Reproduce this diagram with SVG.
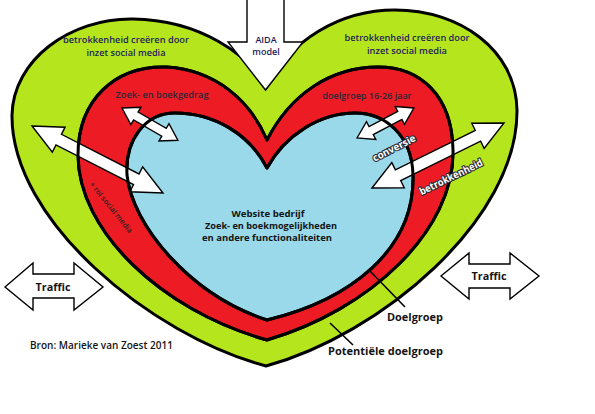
<svg xmlns="http://www.w3.org/2000/svg" xmlns:xlink="http://www.w3.org/1999/xlink" width="595" height="414" viewBox="0 0 595 414">
<style>
.edge{fill:none;stroke:#000;stroke-width:3;stroke-linejoin:round}
.arr{fill:#fff;stroke:#000;stroke-width:1.4;stroke-linejoin:miter}
.t{font-family:"Open Sans","Liberation Sans",sans-serif;text-anchor:middle}
.navy{fill:#1e1c5c;font-size:9.5px;font-weight:600}
.dark{fill:#141414;font-weight:700}
.wt{fill:#fff;stroke:#2a2a3a;stroke-width:2.2;paint-order:stroke;font-size:10px;font-weight:700}
.lead{stroke:#000;stroke-width:1.6}
</style>
<defs>
<path id="pGreen" d="M266 88 C250 55 200 20 133 19 C70 18 13 60 12 115 C11 220 150 335 266 366 C380 335 518 220 517 110 C516 50 460 10 395 10 C340 10 290 40 266 88 Z"/>
<path id="pRed" d="M267 140 C250 100 215 70 167 67 C115 65 78 100 78 155 C78 230 160 310 267 340 C370 310 455 230 453 150 C452 95 420 67 378 67 C330 67 290 95 267 140 Z"/>
<path id="pBlue" d="M267 168 C250 135 215 113 175 113 C145 113 125 140 127 175 C132 225 190 295 267 320 C350 300 415 250 413 175 C412 135 385 113 355 113 C320 113 285 135 267 168 Z"/>
</defs>
<rect width="595" height="414" fill="#fff"/>
<g id="heart-potentiele-doelgroep">
<use xlink:href="#pGreen" fill="#b5e61d"/>
<use xlink:href="#pGreen" class="edge"/>
</g>
<g id="heart-doelgroep">
<use xlink:href="#pRed" fill="#ed1c24"/>
<use xlink:href="#pRed" class="edge"/>
</g>
<g id="heart-website">
<use xlink:href="#pBlue" fill="#99d9ea"/>
<use xlink:href="#pBlue" class="edge"/>
</g>
<g id="connectors">
<polygon class="arr" transform="translate(32 126) rotate(27.08)" points="0,0 30,-14 30,-6 117.1,-6 117.1,-14 147.1,0 117.1,14 117.1,6 30,6 30,14"/>
<polygon class="arr" transform="translate(122 108) rotate(30)" points="0,0 16,-10 16,-4.5 48.5,-4.5 48.5,-10 64.5,0 48.5,10 48.5,4.5 16,4.5 16,10"/>
<polygon class="arr" transform="translate(357 138) rotate(-27.8)" points="0,0 16,-10 16,-4.5 48.4,-4.5 48.4,-10 64.4,0 48.4,10 48.4,4.5 16,4.5 16,10"/>
<polygon class="arr" transform="translate(372 188) rotate(-26.2)" points="0,0 29,-14 29,-6 118.1,-6 118.1,-14 147.1,0 118.1,14 118.1,6 29,6 29,14"/>
<line class="lead" x1="369" y1="270" x2="405" y2="307"/>
<line class="lead" x1="330" y1="323" x2="353" y2="345"/>
</g>
<g id="edges-over">
<use xlink:href="#pRed" class="edge"/>
<use xlink:href="#pBlue" class="edge"/>
</g>
<g id="aida">
<polygon class="arr" points="247,-2 284,-2 284,42 303,42 265.5,90 228,42 247,42"/>
<text class="t navy" x="266" y="43" style="font-size:9px">AIDA</text>
<text class="t navy" x="266" y="54.5" style="font-size:9px">model</text>
</g>
<g id="traffic-left">
<polygon class="arr" points="5,287 33,263 33,274 74,274 74,263 103,287 74,310 74,298 33,298 33,310"/>
<text class="t dark" x="53" y="291" style="font-size:11px" textLength="35" lengthAdjust="spacingAndGlyphs">Traffic</text>
</g>
<g id="traffic-right">
<polygon class="arr" points="441,276 469,253 469,264 510,264 510,253 539,276 510,299 510,288 469,288 469,299"/>
<text class="t dark" x="489" y="280" style="font-size:11px" textLength="35" lengthAdjust="spacingAndGlyphs">Traffic</text>
</g>
<g id="labels">
<text class="t navy" x="126" y="43" textLength="126" lengthAdjust="spacingAndGlyphs">betrokkenheid creëren door</text>
<text class="t navy" x="126" y="55.5" textLength="79" lengthAdjust="spacingAndGlyphs">inzet social media</text>
<text class="t navy" x="407" y="41" textLength="125" lengthAdjust="spacingAndGlyphs">betrokkenheid creëren door</text>
<text class="t navy" x="407" y="53.5" textLength="80" lengthAdjust="spacingAndGlyphs">inzet social media</text>
<text class="t" x="162" y="98" style="font-size:9.5px;fill:#2a2838;font-weight:600" textLength="93" lengthAdjust="spacingAndGlyphs">Zoek- en boekgedrag</text>
<text class="t" x="367" y="99" style="font-size:9px;fill:#2a2838;font-weight:600" textLength="89" lengthAdjust="spacingAndGlyphs">doelgroep 16-26 jaar</text>
<text class="t wt" transform="rotate(-27 394 148)" x="394" y="151.5" textLength="47" lengthAdjust="spacingAndGlyphs">conversie</text>
<text class="t wt" transform="rotate(-26 451 177)" x="451" y="180.5" textLength="69" lengthAdjust="spacingAndGlyphs">betrokkenheid</text>
<text class="t" transform="rotate(51 111 207.5)" x="111" y="210" style="font-size:7.5px;fill:#2a2020;font-weight:600" textLength="63" lengthAdjust="spacingAndGlyphs">+ rol social media</text>
<text class="t dark" x="268" y="217" style="font-size:9.5px" textLength="73" lengthAdjust="spacingAndGlyphs">Website bedrijf</text>
<text class="t dark" x="271" y="229" style="font-size:9.5px" textLength="132" lengthAdjust="spacingAndGlyphs">Zoek- en boekmogelijkheden</text>
<text class="t dark" x="267" y="240.5" style="font-size:9.5px" textLength="130" lengthAdjust="spacingAndGlyphs">en andere functionaliteiten</text>
<text class="t dark" x="415" y="321" style="font-size:11px" textLength="56" lengthAdjust="spacingAndGlyphs">Doelgroep</text>
<text class="t dark" x="385.5" y="355" style="font-size:11px" textLength="115" lengthAdjust="spacingAndGlyphs">Potentiële doelgroep</text>
<text class="t" x="101.5" y="349" style="font-size:10px;fill:#141414;font-weight:600" textLength="143" lengthAdjust="spacingAndGlyphs">Bron: Marieke van Zoest 2011</text>
</g>
</svg>
